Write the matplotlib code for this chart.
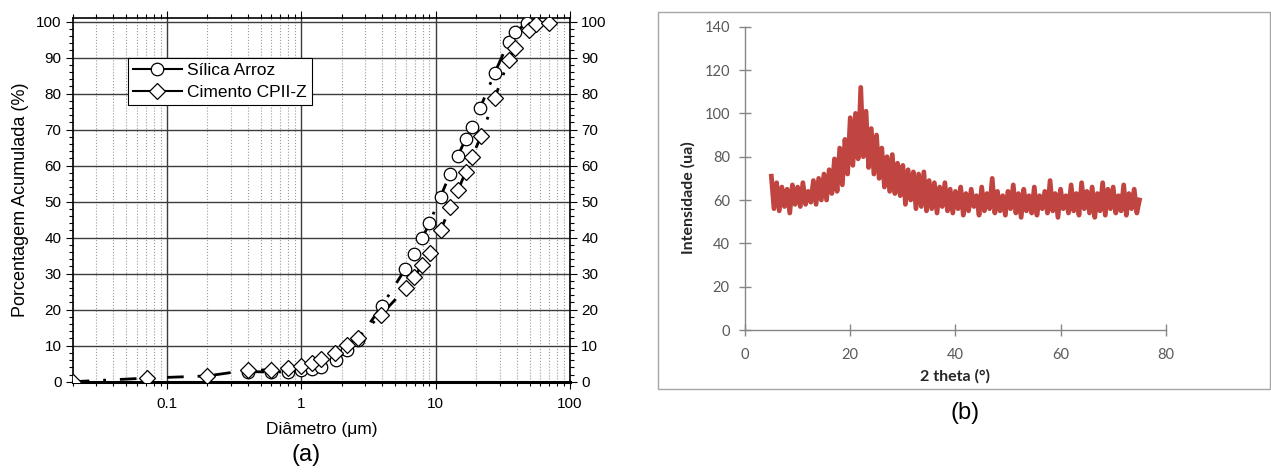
import numpy as np
import matplotlib.pyplot as plt
from matplotlib.lines import Line2D
from matplotlib.patches import Rectangle
from matplotlib.ticker import LogLocator, FixedLocator, FixedFormatter, MultipleLocator

# (a) particle size distribution
silica_d = [0.40, 0.60, 0.80, 1.0, 1.21, 1.41, 1.81, 2.21, 2.63, 3.98, 5.93, 6.9, 7.96, 8.98,
            10.9, 12.8, 14.7, 16.7, 18.7, 21.5, 27.5, 34.9, 39.1, 47.7]
silica_p = [2.8, 2.7, 2.8, 3.2, 3.4, 4.2, 6.0, 8.8, 11.5, 21.0, 31.2, 35.6, 39.8, 44.0,
            51.4, 57.7, 62.8, 67.4, 70.8, 76.1, 85.7, 94.4, 97.0, 99.7]
cimento_d = [0.02, 0.071, 0.20, 0.40, 0.60, 0.80, 1.0, 1.21, 1.41, 1.80, 2.21, 2.63, 3.91, 6.0,
             6.9, 7.96, 9.03, 10.9, 12.9, 14.7, 16.7, 18.7, 21.8, 27.5, 34.9, 39.1, 49.2, 56.0, 69.2]
cimento_p = [0.0, 1.0, 1.6, 3.2, 3.3, 3.7, 4.4, 5.1, 6.2, 8.1, 10.2, 12.2, 18.5, 25.9,
             29.0, 32.4, 35.7, 42.1, 48.6, 53.2, 58.2, 62.5, 68.2, 78.7, 89.3, 92.8, 97.7, 99.4, 99.7]

# (b) XRD pattern, 2 theta from 5 to 75 in steps of 0.5
theta = np.arange(5.0, 75.01, 0.5)
intensidade = [
    71, 56, 68, 55, 66, 57, 65, 54, 67, 58,
    66, 57, 68, 58, 64, 59, 69, 58, 70, 60,
    72, 60, 74, 63, 79, 64, 84, 67, 88, 72,
    98, 76, 100, 79, 112, 80, 101, 75, 93, 72,
    90, 70, 84, 66, 80, 64, 81, 63, 77, 62,
    76, 58, 74, 60, 73, 56, 72, 57, 73, 55,
    69, 56, 68, 54, 66, 57, 68, 55, 65, 54,
    64, 56, 66, 53, 63, 55, 65, 57, 62, 53,
    66, 55, 63, 56, 70, 54, 64, 55, 62, 53,
    64, 56, 67, 54, 63, 52, 65, 55, 62, 54,
    66, 53, 62, 56, 64, 54, 69, 55, 63, 52,
    65, 56, 62, 54, 67, 55, 63, 53, 68, 56,
    64, 54, 66, 52, 63, 55, 68, 53, 65, 56,
    66, 54, 62, 55, 67, 53, 63, 56, 65, 54,
    60,
]

plt.rcParams['font.family'] = ['Liberation Sans', 'DejaVu Sans']

fig = plt.figure(figsize=(12.71, 4.72), dpi=100)

# ---------- left panel ----------
ax1 = fig.add_axes([0.0572, 0.1913, 0.3913, 0.7706])
ax1.set_xscale('log')
ax1.set_xlim(0.02, 100)
ax1.set_ylim(0, 101)

dash = (0, (6, 5, 1, 5))
ax1.plot(silica_d, silica_p, color='black', lw=2, ls=dash, zorder=3)
ax1.plot(cimento_d, cimento_p, color='black', lw=2, ls=dash, zorder=3)
ax1.plot(silica_d, silica_p, ls='none', marker='o', ms=9, mfc='white', mec='black',
         mew=0.9, zorder=4)
ax1.plot(cimento_d, cimento_p, ls='none', marker='D', ms=8.3, mfc='white', mec='black',
         mew=0.9, zorder=5)

ax1.xaxis.set_major_locator(FixedLocator([0.1, 1, 10, 100]))
ax1.xaxis.set_major_formatter(FixedFormatter(['0.1', '1', '10', '100']))
ax1.xaxis.set_minor_locator(LogLocator(base=10, subs=np.arange(2, 10)))
ax1.xaxis.set_minor_formatter(FixedFormatter([]))
ax1.yaxis.set_major_locator(MultipleLocator(10))
ax1.yaxis.set_minor_locator(MultipleLocator(2))

ax1.grid(which='major', color='#3c3c3c', lw=1.0)
ax1.grid(which='minor', axis='x', color='#9a9a9a', lw=0.8, ls=':')
ax1.set_axisbelow(True)

ax1.tick_params(which='both', direction='out', top=True, right=True,
                labelright=True, labelsize=11, width=0.8)
ax1.tick_params(which='major', length=5)
ax1.tick_params(which='minor', length=3)
ax1.tick_params(axis='y', pad=3)
ax1.tick_params(axis='x', pad=6)
for s in ax1.spines.values():
    s.set_linewidth(1.2)
ax1.spines['bottom'].set_linewidth(2.2)

ax1.set_xlabel('Diâmetro (μm)', fontsize=12.5, labelpad=8)
ax1.set_ylabel('Porcentagem Acumulada (%)', fontsize=13, labelpad=5)

handles = [
    Line2D([], [], color='black', lw=1.5, marker='o', ms=9, mfc='white', mec='black', mew=0.9),
    Line2D([], [], color='black', lw=1.5, marker='D', ms=8.3, mfc='white', mec='black', mew=0.9),
]
leg = ax1.legend(handles, ['Sílica Arroz', 'Cimento CPII-Z'], loc='upper left',
                 bbox_to_anchor=(0.111, 0.890), borderaxespad=0, fontsize=12.5,
                 fancybox=False, framealpha=1, edgecolor='black', handlelength=2.8,
                 handletextpad=0.3, borderpad=0.3, labelspacing=0.35)
leg.get_frame().set_linewidth(0.8)

fig.text(306 / 1271, 1 - 455 / 472, '(a)', fontsize=17, ha='center', va='center')

# ---------- right panel ----------
fig.patches.append(Rectangle((0.518, 0.1758), 0.4813, 0.7994, transform=fig.transFigure,
                             fill=False, edgecolor='#a6a6a6', lw=1.0))

gray = '#868686'
txt = '#595959'
ax2 = fig.add_axes([0.5862, 0.3008, 0.3310, 0.6426])
ax2.plot(theta, intensidade, color='#c0443f', lw=3.4, solid_joinstyle='round')
ax2.set_xlim(0, 80)
ax2.set_ylim(0, 140)
ax2.set_xticks([0, 20, 40, 60, 80])
ax2.set_yticks(np.arange(0, 141, 20))
for side in ['top', 'right']:
    ax2.spines[side].set_visible(False)
for side in ['left', 'bottom']:
    ax2.spines[side].set_color(gray)
    ax2.spines[side].set_linewidth(1.0)
ax2.tick_params(direction='inout', length=8, width=1.0, color=gray, labelcolor=txt)
ax2.tick_params(axis='x', pad=9)
ax2.tick_params(axis='y', pad=7)
for lab in ax2.get_xticklabels() + ax2.get_yticklabels():
    lab.set_family(['Lato', 'DejaVu Sans'])
    lab.set_fontsize(10.5)

ax2.text(-0.135, 0.435, 'Intensidade (ua)', transform=ax2.transAxes, rotation=90,
         ha='center', va='center', fontsize=11.5, fontweight='bold', color='#262626',
         family=['Lato', 'DejaVu Sans'])
ax2.text(0.499, -0.154, '2 theta (°)', transform=ax2.transAxes, ha='center', va='center',
         fontsize=11.5, fontweight='bold', color='#262626', family=['Lato', 'DejaVu Sans'])

fig.text(965 / 1271, 1 - 413 / 472, '(b)', fontsize=17, ha='center', va='center')

fig.savefig('out.png', dpi=100)
